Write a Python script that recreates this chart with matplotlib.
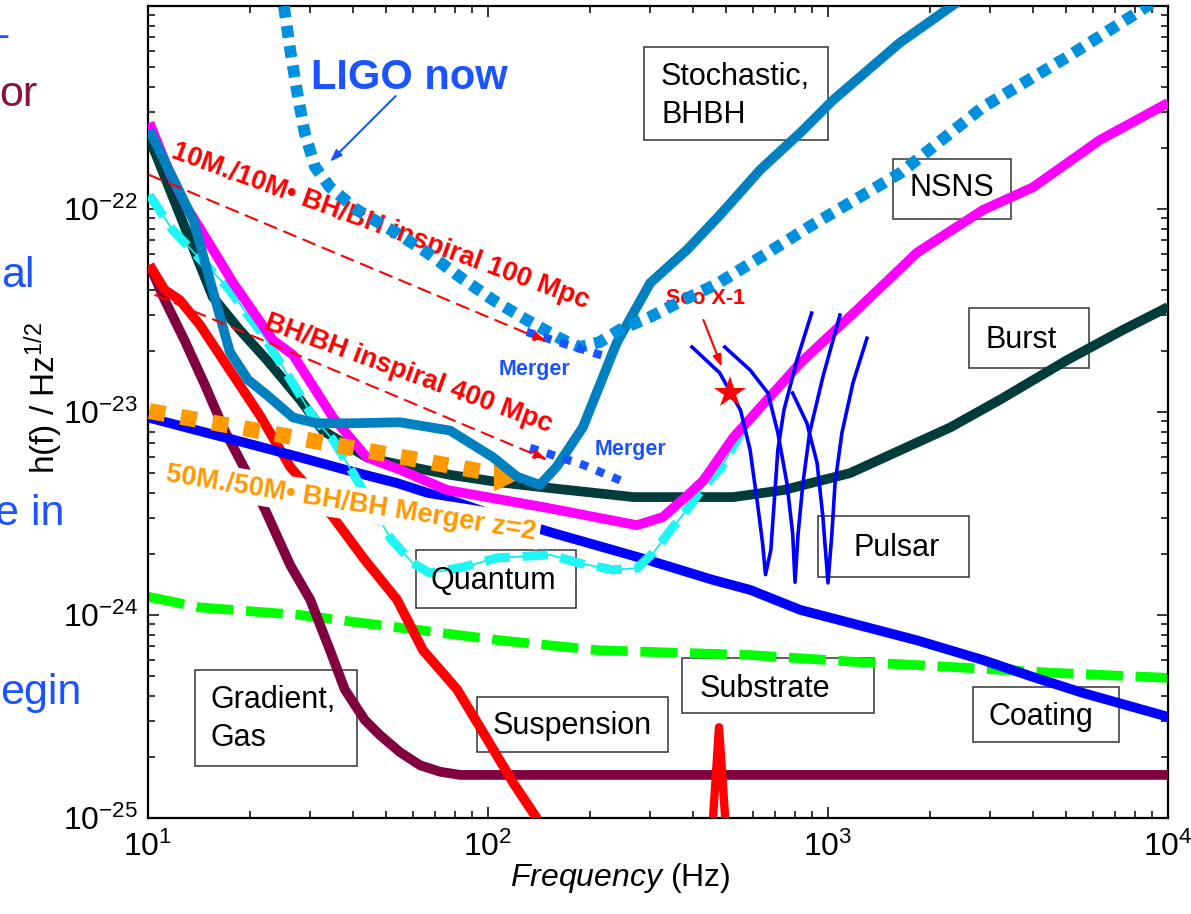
import matplotlib
matplotlib.use('Agg')
import matplotlib.pyplot as plt
import numpy as np
from matplotlib.patches import Rectangle
from matplotlib.ticker import LogLocator, NullFormatter, FuncFormatter

plt.rcParams['font.family'] = ['Liberation Sans', 'DejaVu Sans']
plt.rcParams['mathtext.fontset'] = 'custom'
plt.rcParams['mathtext.rm'] = 'Liberation Sans'
plt.rcParams['mathtext.it'] = 'Liberation Sans:italic'
plt.rcParams['mathtext.bf'] = 'Liberation Sans:bold'

# ---- noise curves (Hz, strain / sqrt(Hz)) ----
freq_gas = [10.1, 11.2, 12.8, 14.7, 16.8, 19.3, 22.1, 26.2, 30.0, 34.3, 37.9, 43.4, 48.1, 55.1, 63.1, 72.3, 82.8, 10000]
h_gas = [5.3e-23, 3.56e-23, 2.26e-23, 1.36e-23, 8.1e-24, 5.2e-24, 3.3e-24, 1.76e-24, 1.19e-24, 6.7e-25,
         4.3e-25, 3.04e-25, 2.56e-25, 2.11e-25, 1.82e-25, 1.69e-25, 1.63e-25, 1.63e-25]

freq_susp = [10.1, 11.2, 12.4, 14.2, 17.4, 21.3, 26.2, 30.0, 35.0, 43.4, 54.0, 64.4, 81.1, 94.6, 118.6, 139, 160]
h_susp = [5.3e-23, 3.99e-23, 3.56e-23, 2.69e-23, 1.61e-23, 9.66e-24, 5.36e-24, 4.13e-24, 3.04e-24, 1.87e-24,
          1.19e-24, 6.7e-25, 4.3e-25, 2.81e-25, 1.49e-25, 1.0e-25, 7e-26]

freq_coat = [10, 14.2, 19.9, 28.0, 39.3, 53.9, 77.4, 108.6, 156, 233, 294, 458, 590, 828, 1302, 1828, 2858, 4008, 5623, 10000]
h_coat = [9.4e-24, 8.06e-24, 6.96e-24, 5.98e-24, 5.12e-24, 4.47e-24, 3.68e-24, 3.04e-24, 2.53e-24, 2.09e-24,
          1.87e-24, 1.49e-24, 1.33e-24, 1.06e-24, 8.7e-25, 7.5e-25, 6.0e-25, 4.95e-25, 4.13e-25, 3.15e-25]

freq_sub = [10, 14.2, 28.0, 53.9, 108.6, 213, 590, 1161, 2290, 4497, 10000]
h_sub = [1.23e-24, 1.09e-24, 1.0e-24, 8.7e-25, 7.5e-25, 6.7e-25, 6.35e-25, 5.9e-25, 5.55e-25, 5.2e-25, 4.9e-25]

freq_spike = [455, 478, 503]
h_spike = [8e-26, 2.8e-25, 8e-26]

freq_qn = [10.1, 11.8, 14.2, 17.1, 21.8, 28.0, 30.6, 35.0, 40.1, 51.6, 60.1, 67.4, 84.3, 106, 152, 186, 233,
           274, 306, 344, 385, 430, 487, 565]
h_qn = [1.17e-22, 7.9e-23, 5.7e-23, 4.13e-23, 2.39e-23, 1.21e-23, 9.4e-24, 7.3e-24, 5.0e-24, 2.39e-24, 1.80e-24,
        1.61e-24, 1.72e-24, 1.91e-24, 1.98e-24, 1.80e-24, 1.67e-24, 1.70e-24, 2.02e-24, 2.62e-24, 3.3e-24,
        4.27e-24, 5.36e-24, 8.4e-24]

freq_ns = [10.1, 11.6, 13.0, 14.5, 17.8, 23.3, 26.7, 35.0, 44.0, 55.1, 75.7, 149.6, 274, 327, 393, 430, 527,
           828, 1242, 1828, 2858, 4008, 6310, 10000]
h_ns = [2.66e-22, 1.50e-22, 1.02e-22, 7.6e-23, 4.32e-23, 2.26e-23, 1.91e-23, 9.4e-24, 5.98e-24, 5.2e-24, 4.13e-24,
        3.37e-24, 2.77e-24, 3.04e-24, 3.99e-24, 4.6e-24, 7.5e-24, 1.74e-23, 3.29e-23, 6.1e-23, 9.9e-23,
        1.28e-22, 2.19e-22, 3.33e-22]

freq_burst = [10, 13.3, 15.5, 18.6, 22.4, 28.0, 32.7, 44.0, 55.1, 77.4, 108.6, 152, 268, 527, 742, 1161, 2290,
              3206, 5044, 7379, 10000]
h_burst = [2.32e-22, 7.0e-23, 3.69e-23, 2.54e-23, 1.80e-23, 1.15e-23, 8.1e-24, 5.98e-24, 5.5e-24, 4.9e-24,
           4.5e-24, 4.22e-24, 3.81e-24, 3.81e-24, 4.13e-24, 5.0e-24, 8.4e-24, 1.15e-23, 1.80e-23, 2.54e-23, 3.29e-23]

freq_stoch = [10.1, 13.6, 15.2, 17.4, 19.7, 22.4, 26.7, 31.4, 39.3, 55.1, 77.4, 103.5, 121.8, 142, 159, 190, 239,
              300, 385, 480, 632, 828, 1035, 1628, 2333, 2706]
h_stoch = [2.45e-22, 8.8e-23, 4.47e-23, 1.98e-23, 1.44e-23, 1.21e-23, 9.4e-24, 8.8e-24, 8.8e-24, 8.9e-24, 8.1e-24,
           5.98e-24, 4.8e-24, 4.37e-24, 5.36e-24, 8.4e-24, 2.19e-23, 4.32e-23, 6.3e-23, 9.3e-23, 1.56e-22,
           2.37e-22, 3.44e-22, 6.6e-22, 1.01e-21, 1.2e-21]

freq_ligo = [25.1, 26.2, 27.4, 28.9, 31.0, 34.3, 41.2, 53.9, 66.2, 82.8, 103.5, 130, 166.5, 186, 213, 244, 300,
             375, 471, 666, 883, 1628, 2858, 5044, 7887, 10000]
h_ligo = [1.0e-21, 6.07e-22, 3.86e-22, 2.37e-22, 1.61e-22, 1.28e-22, 9.9e-23, 7.6e-23, 6.1e-23, 4.62e-23, 3.56e-23,
          2.84e-23, 2.26e-23, 2.09e-23, 2.21e-23, 2.54e-23, 2.94e-23, 3.56e-23, 4.27e-23, 6.1e-23, 8.2e-23,
          1.50e-22, 3.18e-22, 5.6e-22, 9.0e-22, 1.17e-21]

freq_merge1 = [130, 172, 228]
h_merge1 = [2.48e-23, 2.14e-23, 1.85e-23]
freq_merge2 = [133, 190, 253]
h_merge2 = [6.66e-24, 5.5e-24, 4.5e-24]

freq_bbh50 = [10.1, 97.9]
h_bbh50 = [1.01e-23, 5.06e-24]
tri_bbh50 = (114.5, 4.84e-24)

freq_insp100 = [10.1, 150]
h_insp100 = [1.47e-22, 2.21e-23]
freq_insp400 = [10.5, 150]
h_insp400 = [3.77e-23, 5.8e-24]

freq_psr1 = [398, 480, 553, 590, 620, 642, 655, 679, 701, 712, 742, 810, 895]
h_psr1 = [2.09e-23, 1.56e-23, 1.02e-23, 6.5e-24, 3.56e-24, 2.26e-24, 1.58e-24, 2.09e-24, 4.47e-24, 6.5e-24,
          1.02e-23, 1.80e-23, 3.07e-23]
freq_psr2 = [497, 590, 666, 712, 757, 787, 800, 817, 844, 883, 966, 1084]
h_psr2 = [2.09e-23, 1.61e-23, 1.24e-23, 7.9e-24, 4.47e-24, 2.53e-24, 1.45e-24, 2.53e-24, 4.47e-24, 7.9e-24,
          1.49e-23, 3.0e-23]
freq_psr3 = [787, 867, 929, 966, 1000, 1027, 1049, 1099, 1184, 1302]
h_psr3 = [1.24e-23, 8.8e-24, 5.6e-24, 3.04e-24, 1.44e-24, 2.53e-24, 4.47e-24, 7.9e-24, 1.39e-23, 2.31e-23]

sco_x1 = (516, 1.24e-23)
ligo_arrow = [(53.5, 3.6e-22), (34.3, 1.71e-22)]
sco_arrow = [(430, 2.84e-23), (487, 1.67e-23)]

W, H = 1191, 914
fig = plt.figure(figsize=(W / 100, H / 100), dpi=100)
ax = fig.add_axes([148 / W, 96 / H, 1020 / W, 812 / H])
ax.set_xscale('log')
ax.set_yscale('log')
ax.set_xlim(10, 1e4)
ax.set_ylim(1e-25, 1e-21)


def axp(px, py):
    return ((px - 148) / 1020, (818 - py) / 812)


thick = dict(lw=7, solid_capstyle='butt', solid_joinstyle='round')
ax.plot(freq_sub, h_sub, color='#00ff00', lw=7, linestyle=(0, (3.8, 1.3)), zorder=2)
ax.plot(freq_gas, h_gas, color='#800040', zorder=3, **thick)
ax.plot(freq_susp, h_susp, color='#ff0000', zorder=4, **thick)
ax.plot(freq_spike, h_spike, color='#ff0000', lw=6, solid_joinstyle='round', zorder=4)
ax.plot(freq_coat, h_coat, color='#0000ff', zorder=5, **thick)
ax.plot(freq_burst, h_burst, color='#003c3c', zorder=6, **thick)
ax.plot(freq_qn, h_qn, color='#00f0f0', lw=1.2, zorder=6)
ax.plot(freq_qn, h_qn, color='#1ff5f5', lw=6.5, linestyle=(0, (2.8, 1.4)), zorder=6)
ax.plot(freq_ns, h_ns, color='#ff00ff', zorder=7, **thick)
ax.plot(freq_bbh50, h_bbh50, color='#ff9900', lw=11.5, linestyle=(0, (1, 1)), zorder=8)
ax.plot(*tri_bbh50, marker='>', color='#ff9900', markersize=20, zorder=8)
ax.plot(freq_stoch, h_stoch, color='#0080c0', zorder=9, **thick)
ax.plot(freq_ligo, h_ligo, color='#0090e0', lw=8.5, linestyle=(0, (1, 0.7)), zorder=10)
ax.plot(freq_merge1, h_merge1, color='#1a53ff', lw=6, linestyle=(0, (1, 1.1)), zorder=11)
ax.plot(freq_merge2, h_merge2, color='#1a53ff', lw=6, linestyle=(0, (1, 1.1)), zorder=11)
for fp, hp in [(freq_psr1, h_psr1), (freq_psr2, h_psr2), (freq_psr3, h_psr3)]:
    ax.plot(fp, hp, color='#0000ff', lw=2.6, solid_joinstyle='round', zorder=12)

for fi, hi in [(freq_insp100, h_insp100), (freq_insp400, h_insp400)]:
    ax.annotate('', xy=(fi[1], hi[1]), xytext=(fi[0], hi[0]), zorder=13,
                arrowprops=dict(arrowstyle='-|>,head_length=0.8,head_width=0.25', color='#ff0000',
                                lw=1.5, linestyle=(0, (6, 4)), shrinkA=0, shrinkB=0))

ax.plot(*sco_x1, marker='*', color='#ff0000', markersize=24, markeredgewidth=0, zorder=14)
ax.annotate('', xy=ligo_arrow[1], xytext=ligo_arrow[0], zorder=14,
            arrowprops=dict(arrowstyle='-|>,head_length=0.7,head_width=0.25', color='#1a53ff', lw=1.5,
                            shrinkA=0, shrinkB=0))
ax.annotate('', xy=sco_arrow[1], xytext=sco_arrow[0], zorder=14,
            arrowprops=dict(arrowstyle='-|>,head_length=0.7,head_width=0.25', color='#ff0000', lw=1.5,
                            shrinkA=0, shrinkB=0))

# ---- labelled boxes ----
boxes = [
    ((644, 47, 828, 140), [('Stochastic,', 661, 77), ('BHBH', 661, 115)]),
    ((893, 159, 1011, 219), [('NSNS', 909, 188)]),
    ((969, 308, 1089, 368), [('Burst', 985, 340)]),
    ((818, 516, 969, 577), [('Pulsar', 853, 548)]),
    ((416, 550, 576, 608), [('Quantum', 431, 581)]),
    ((682, 658, 874, 713), [('Substrate', 700, 689)]),
    ((477, 697, 668, 752), [('Suspension', 493, 726)]),
    ((973, 687, 1119, 742), [('Coating', 989, 717)]),
    ((195, 670, 357, 766), [('Gradient,', 210, 700), ('Gas', 210, 738)]),
]
for (x0, y0, x1, y1), lines in boxes:
    bx, by = axp(x0, y1)
    ax.add_patch(Rectangle((bx, by), (x1 - x0) / 1020, (y1 - y0) / 812, transform=ax.transAxes,
                           fill=False, edgecolor='#333333', lw=1.1, zorder=1))
    for txt, tx, ty in lines:
        ax.text(*axp(tx, ty), txt, transform=ax.transAxes, ha='left', va='center',
                fontsize=22, color='black', zorder=15)

# ---- coloured annotations ----
ax.text(*axp(409, 78), 'LIGO now', transform=ax.transAxes, ha='center', va='center',
        fontsize=30, fontweight='bold', color='#1a53ff', zorder=15)
ax.text(*axp(535, 370), 'Merger', transform=ax.transAxes, ha='center', va='center',
        fontsize=15.5, fontweight='bold', color='#1a53ff', zorder=15)
ax.text(*axp(630, 450), 'Merger', transform=ax.transAxes, ha='center', va='center',
        fontsize=15.5, fontweight='bold', color='#1a53ff', zorder=15)
ax.text(*axp(706, 299), 'Sco X-1', transform=ax.transAxes, ha='center', va='center',
        fontsize=15.5, fontweight='bold', color='#ff0000', zorder=9.5)
ax.text(*axp(380, 226), '10M./10M\u2022 BH/BH inspiral 100 Mpc', transform=ax.transAxes,
        ha='center', va='center', rotation=-20, rotation_mode='anchor',
        fontsize=19.5, fontweight='bold', color='#ff0000', zorder=9.5)
ax.text(*axp(408, 374), 'BH/BH inspiral 400 Mpc', transform=ax.transAxes,
        ha='center', va='center', rotation=-20, rotation_mode='anchor',
        fontsize=19.5, fontweight='bold', color='#ff0000', zorder=9.5)
ax.text(*axp(351, 503), '50M./50M\u2022 BH/BH Merger z=2', transform=ax.transAxes,
        ha='center', va='center', rotation=-9, rotation_mode='anchor',
        fontsize=19.5, fontweight='bold', color='#ff9900', zorder=7.5,
        bbox=dict(boxstyle='square,pad=0.15', facecolor='white', edgecolor='none'))

# ---- axes styling ----
def decade_label(v, pos):
    if v > 5e-22 and v < 1e-20:
        return ''
    return r'$10^{%d}$' % int(round(np.log10(v)))


ax.xaxis.set_major_locator(LogLocator(base=10, numticks=10))
ax.xaxis.set_minor_locator(LogLocator(base=10, subs=range(2, 10), numticks=20))
ax.yaxis.set_major_locator(LogLocator(base=10, numticks=10))
ax.yaxis.set_minor_locator(LogLocator(base=10, subs=range(2, 10), numticks=20))
ax.xaxis.set_major_formatter(FuncFormatter(decade_label))
ax.yaxis.set_major_formatter(FuncFormatter(decade_label))
ax.xaxis.set_minor_formatter(NullFormatter())
ax.yaxis.set_minor_formatter(NullFormatter())
ax.tick_params(which='both', direction='in', top=True, right=True, labelsize=23, width=1.1)
ax.tick_params(which='major', length=8)
ax.tick_params(which='minor', length=5)
ax.tick_params(axis='x', pad=10)
ax.tick_params(axis='y', pad=7)
for sp in ax.spines.values():
    sp.set_linewidth(1.6)

fig.text(44 / W, 1 - 398 / H, 'h(f) / Hz$^{1/2}$', rotation=90, ha='center', va='center', fontsize=24)
fig.text(620 / W, 1 - 878 / H, r'$\it{Frequency}$ (Hz)', ha='center', va='center', fontsize=23)

# fragments of slide text cut off at the left edge
fig.text(9 / W, 1 - 48 / H, '-', ha='right', va='baseline', fontsize=31, color='#1a53ff')
fig.text(37 / W, 1 - 106 / H, 'or', ha='right', va='baseline', fontsize=31, color='#8b0f40')
fig.text(35 / W, 1 - 287 / H, 'al', ha='right', va='baseline', fontsize=31, color='#1a53ff')
fig.text(64 / W, 1 - 525 / H, 'e in', ha='right', va='baseline', fontsize=31, color='#1a53ff')
fig.text(81 / W, 1 - 704 / H, 'egin', ha='right', va='baseline', fontsize=31, color='#1a53ff')

fig.savefig('out.png', dpi=100, facecolor='white')
